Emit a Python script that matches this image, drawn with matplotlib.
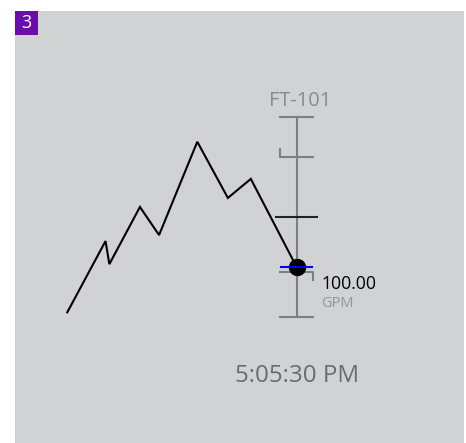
import matplotlib
matplotlib.use("Agg")
import matplotlib.pyplot as plt
from matplotlib.patches import Rectangle

# ---- data ----
times = [0, 10, 11, 19, 24, 34, 42, 48, 60]          # seconds in trend window
flows = [55, 126, 103, 160, 132, 225, 169, 188, 100]  # GPM
scale_min, scale_max = 50, 250
high_alarm = 210
setpoint = 150
low_alarm = 95
current_value = 100.00
tag = "FT-101"
units = "GPM"
timestamp = "5:05:30 PM"
badge = "3"

W, H = 466, 443
fig = plt.figure(figsize=(W / 100, H / 100), dpi=100)
fig.patch.set_facecolor("white")

def fx(px):
    return px / W

def fy(py):
    return 1 - py / H

# panel background
fig.patches.append(Rectangle((fx(15), 0), fx(464) - fx(15), fy(11), transform=fig.transFigure,
                             facecolor="#d1d2d4", edgecolor="none", zorder=-2))
# badge
fig.patches.append(Rectangle((fx(15), fy(35)), fx(38) - fx(15), fy(11) - fy(35), transform=fig.transFigure,
                             facecolor="#6a0dad", edgecolor="none", zorder=-1))
fig.text(fx(26.5), fy(23.5), badge, color="white", fontsize=13, family="Open Sans",
         ha="center", va="center")

# axes mapping trend time / value
x0, x1 = 67.3, 296.7
y_top, y_bot = 116.7, 317.3
ax = fig.add_axes([fx(x0), fy(y_bot), fx(x1) - fx(x0), fy(y_top) - fy(y_bot)])
ax.set_zorder(5)
ax.set_xlim(times[0], times[-1])
ax.set_ylim(scale_min, scale_max)
ax.axis("off")
ax.patch.set_alpha(0)

pxx = (x1 - x0) / (times[-1] - times[0])      # px per second
pxy = (y_bot - y_top) / (scale_max - scale_min)  # px per unit
xs = times[-1]
gray = "#7f7f7f"

# trend line
ax.plot(times, flows, color="black", lw=1.5, solid_joinstyle="miter", zorder=3, clip_on=False)

# vertical scale
ax.plot([xs, xs], [scale_min, scale_max], color=gray, lw=1.5, zorder=2, clip_on=False)
half = 16.5 / pxx
for v in (scale_min, scale_max):
    ax.plot([xs - half, xs + half], [v, v], color=gray, lw=1.5, zorder=2, clip_on=False)
# high alarm bracket
ax.plot([xs - half, xs - half, xs + half], [high_alarm + 7.7 / pxy, high_alarm, high_alarm],
        color=gray, lw=1.5, zorder=2, clip_on=False)
# low alarm bracket
ax.plot([xs - half, xs + half, xs + half], [low_alarm, low_alarm, low_alarm - 8.3 / pxy],
        color=gray, lw=1.5, zorder=2, clip_on=False)
# setpoint
hs = 20.5 / pxx
ax.plot([xs - hs, xs + hs], [setpoint, setpoint], color="#222222", lw=1.5, zorder=2, clip_on=False)
# current value dot
ax.plot([xs], [current_value], marker="o", ms=11.5, color="black", zorder=4, clip_on=False)
hb = 15.8 / pxx
ax.plot([xs - hb, xs + hb], [current_value, current_value], color="#0000ff", lw=1.5, zorder=5, clip_on=False)

# texts
fig.text(fx(300), fy(106), tag, color="#8a8a8a", fontsize=14.4, family="Open Sans",
         ha="center", va="baseline")
fig.text(fx(321), fy(289.3), f"{current_value:.2f}", color="black", fontsize=12.7,
         family="Open Sans", ha="left", va="baseline")
fig.text(fx(321), fy(306.7), units, color="#959595", fontsize=10.5, family="Open Sans",
         ha="left", va="baseline")
fig.text(fx(296.7), fy(382.3), timestamp, color="#6b6b6b", fontsize=17.4, family="Open Sans",
         ha="center", va="baseline")

fig.savefig("out.png", dpi=100)
